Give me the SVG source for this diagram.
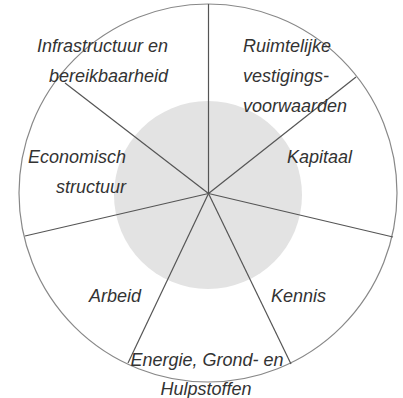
<svg xmlns="http://www.w3.org/2000/svg" width="403" height="398" viewBox="0 0 403 398">
<style>
.lbl{font-family:"Liberation Sans",Arial,sans-serif;font-size:18px;font-style:italic;fill:#333}
.sp{stroke:#555;stroke-width:1.2;fill:none}
</style>
<rect width="403" height="398" fill="#fff"/>
<circle cx="208" cy="193" r="189" fill="#fff" stroke="#888" stroke-width="1.2"/>
<circle cx="208" cy="195" r="94" fill="#e3e3e3"/>
<g id="connectors">
<line class="sp" x1="208.5" y1="193.5" x2="208.5" y2="4" stroke="#777" stroke-width="1.8"/>
<line class="sp" x1="208.5" y1="193.5" x2="65" y2="83"/>
<line class="sp" x1="208.5" y1="193.5" x2="356" y2="77"/>
<line class="sp" x1="208.5" y1="193.5" x2="393" y2="237"/>
<line class="sp" x1="208.5" y1="193.5" x2="291" y2="364"/>
<line class="sp" x1="208.5" y1="193.5" x2="128" y2="363"/>
<line class="sp" x1="208.5" y1="193.5" x2="25" y2="236"/>
</g>
<g id="infrastructuur"><text class="lbl" text-anchor="end" x="168" y="52">Infrastructuur en</text><text class="lbl" text-anchor="end" x="168" y="82">bereikbaarheid</text></g>
<g id="ruimtelijke"><text class="lbl" x="243" y="52">Ruimtelijke</text><text class="lbl" x="243" y="82">vestigings-</text><text class="lbl" x="243" y="112">voorwaarden</text></g>
<g id="economisch"><text class="lbl" text-anchor="end" x="126" y="163">Economisch</text><text class="lbl" text-anchor="end" x="126" y="193">structuur</text></g>
<g id="kapitaal"><text class="lbl" x="287" y="163">Kapitaal</text></g>
<g id="arbeid"><text class="lbl" x="89" y="302">Arbeid</text></g>
<g id="kennis"><text class="lbl" x="271" y="302">Kennis</text></g>
<g id="energie"><text class="lbl" text-anchor="middle" x="207" y="366">Energie, Grond- en</text><text class="lbl" text-anchor="middle" x="206" y="395">Hulpstoffen</text></g>
</svg>
